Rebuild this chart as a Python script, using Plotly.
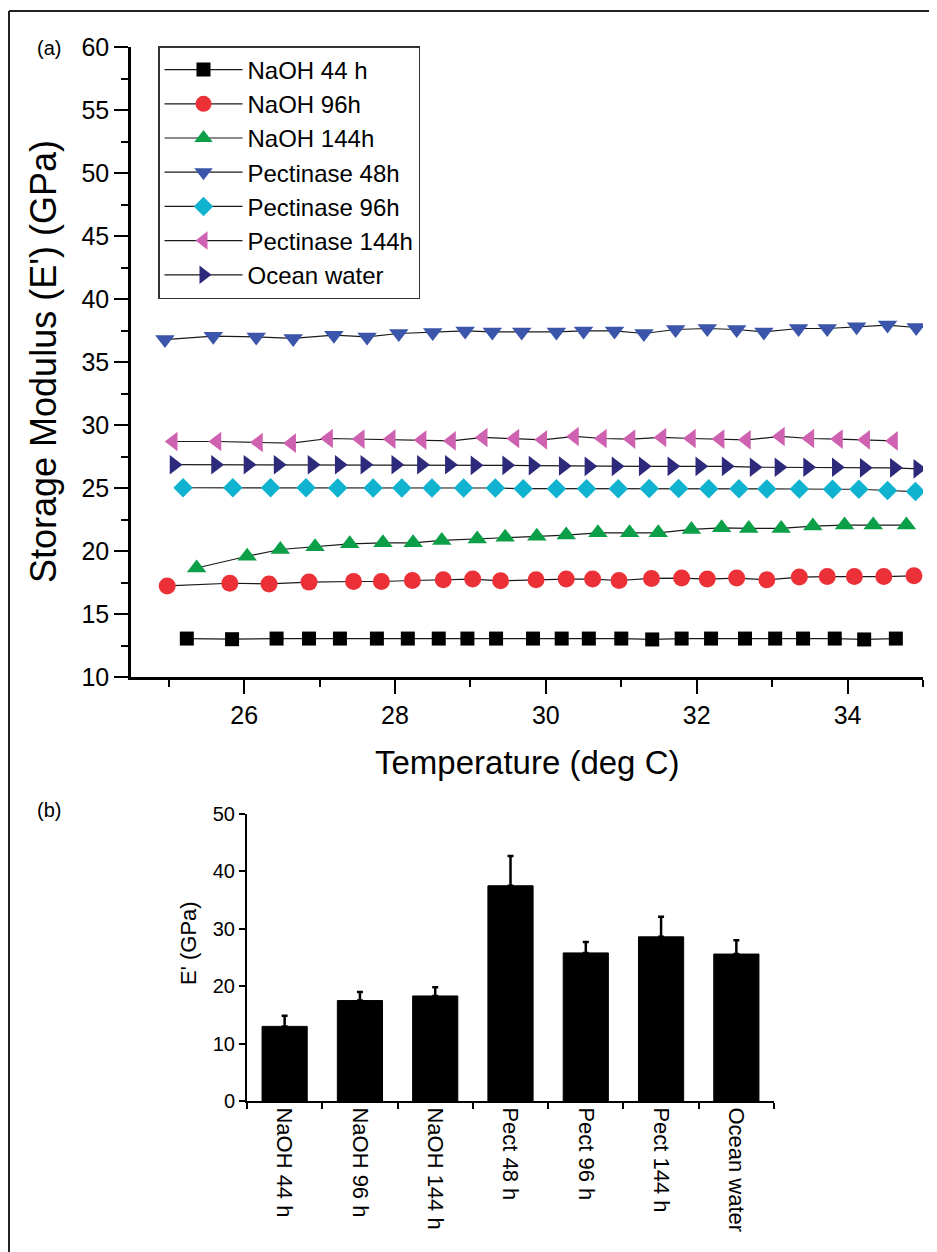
import plotly.graph_objects as go

# ---------------- (a) storage modulus vs temperature ----------------
t_naoh44 = [25.24, 25.84, 26.43, 26.86, 27.27, 27.76, 28.17, 28.58, 28.96, 29.34, 29.83, 30.21,
            30.57, 31.00, 31.41, 31.80, 32.19, 32.64, 33.04, 33.41, 33.83, 34.22, 34.64]
e_naoh44 = [13.05, 13.00, 13.05, 13.05, 13.05, 13.05, 13.05, 13.05, 13.05, 13.05, 13.05, 13.05,
            13.05, 13.05, 12.98, 13.05, 13.05, 13.05, 13.05, 13.05, 13.05, 12.98, 13.05]

t_naoh96 = [24.98, 25.81, 26.33, 26.86, 27.45, 27.82, 28.23, 28.64, 29.03, 29.40, 29.87, 30.27,
            30.62, 30.97, 31.40, 31.80, 32.14, 32.53, 32.93, 33.36, 33.73, 34.09, 34.48, 34.88]
e_naoh96 = [17.23, 17.44, 17.39, 17.53, 17.58, 17.58, 17.66, 17.71, 17.77, 17.63, 17.71, 17.77,
            17.77, 17.66, 17.82, 17.85, 17.77, 17.85, 17.71, 17.93, 17.97, 17.97, 17.97, 18.03]

t_naoh144 = [25.37, 26.04, 26.48, 26.94, 27.40, 27.84, 28.24, 28.62, 29.09, 29.46, 29.88, 30.27,
             30.69, 31.11, 31.49, 31.93, 32.33, 32.69, 33.12, 33.54, 33.96, 34.34, 34.78]
e_naoh144 = [18.65, 19.58, 20.12, 20.33, 20.57, 20.65, 20.65, 20.84, 20.96, 21.10, 21.18, 21.26,
             21.44, 21.44, 21.44, 21.71, 21.84, 21.79, 21.79, 21.98, 22.06, 22.06, 22.06]

t_pect48 = [24.95, 25.59, 26.16, 26.65, 27.19, 27.63, 28.05, 28.50, 28.93, 29.29, 29.68, 30.14,
            30.50, 30.91, 31.30, 31.72, 32.14, 32.53, 32.89, 33.35, 33.73, 34.12, 34.53, 34.91]
e_pect48 = [36.78, 37.05, 36.99, 36.87, 37.13, 36.99, 37.26, 37.34, 37.47, 37.39, 37.39, 37.39,
            37.47, 37.47, 37.26, 37.58, 37.66, 37.58, 37.39, 37.66, 37.66, 37.79, 37.93, 37.74]

t_pect96 = [25.19, 25.85, 26.35, 26.82, 27.24, 27.71, 28.09, 28.49, 28.91, 29.33, 29.70, 30.14,
            30.54, 30.96, 31.37, 31.76, 32.16, 32.56, 32.93, 33.36, 33.80, 34.15, 34.53, 34.90]
e_pect96 = [25.02, 25.02, 25.02, 25.02, 25.00, 25.00, 25.00, 25.00, 25.00, 25.00, 24.95, 24.95,
            24.95, 24.95, 24.97, 24.97, 24.95, 24.95, 24.92, 24.92, 24.90, 24.90, 24.80, 24.72]

t_pect144 = [25.06, 25.64, 26.19, 26.63, 27.12, 27.54, 27.95, 28.36, 28.75, 29.17, 29.59, 29.96,
             30.38, 30.75, 31.13, 31.54, 31.93, 32.31, 32.66, 33.11, 33.50, 33.88, 34.24, 34.61]
e_pect144 = [28.69, 28.69, 28.61, 28.56, 28.93, 28.88, 28.88, 28.80, 28.74, 29.01, 28.93, 28.82,
             29.09, 28.93, 28.88, 29.01, 28.93, 28.88, 28.82, 29.09, 28.93, 28.88, 28.82, 28.74]

t_ocean = [25.07, 25.62, 26.05, 26.45, 26.90, 27.26, 27.60, 28.01, 28.35, 28.72, 29.06, 29.48,
           29.83, 30.23, 30.57, 30.93, 31.29, 31.67, 32.04, 32.39, 32.76, 33.09, 33.47, 33.85,
           34.22, 34.62, 34.93]
e_ocean = [26.85, 26.85, 26.85, 26.85, 26.85, 26.85, 26.85, 26.85, 26.85, 26.85, 26.80, 26.80,
           26.78, 26.75, 26.72, 26.72, 26.72, 26.72, 26.72, 26.72, 26.65, 26.65, 26.65, 26.65,
           26.60, 26.60, 26.52]

series_names = ["NaOH 44 h", "NaOH 96h", "NaOH 144h", "Pectinase 48h",
                "Pectinase 96h", "Pectinase 144h", "Ocean water"]
series_t = [t_naoh44, t_naoh96, t_naoh144, t_pect48, t_pect96, t_pect144, t_ocean]
series_e = [e_naoh44, e_naoh96, e_naoh144, e_pect48, e_pect96, e_pect144, e_ocean]
series_symbols = ["square", "circle", "triangle-up", "triangle-down", "diamond",
                  "triangle-left", "triangle-right"]
series_colors = ["#000000", "#EC3038", "#0B9F48", "#3A55AA", "#10B3CF", "#CF62B0", "#2D2A7C"]
series_sizes = [14, 17, 17, 17, 15, 17, 17]

# ---------------- (b) bar chart ----------------
bar_cats = ["NaOH 44 h", "NaOH 96 h", "NaOH 144 h", "Pect 48 h", "Pect 96 h", "Pect 144 h", "Ocean water"]
bar_vals = [13.0, 17.5, 18.3, 37.5, 25.8, 28.6, 25.6]
bar_err = [1.85, 1.5, 1.5, 5.2, 1.9, 3.5, 2.4]

FONT = "Liberation Sans, Arial, Helvetica, sans-serif"

# the page body has an 8px margin, so the figure starts at (8, 8) in the window
OFF = 8
W, H = 937 - OFF, 1252 - OFF


def px_x(p):
    return (p - OFF) / W


def px_y(p):
    return 1 - (p - OFF) / H


fig = go.Figure()
for name, t, e, sym, col, sz in zip(series_names, series_t, series_e, series_symbols,
                                    series_colors, series_sizes):
    fig.add_trace(go.Scatter(
        x=t, y=e, name=name, mode="lines+markers",
        line=dict(color="#1a1a1a", width=1.2),
        marker=dict(symbol=sym, size=sz, color=col, line=dict(width=0)),
        xaxis="x", yaxis="y"))

fig.add_trace(go.Bar(
    x=bar_cats, y=bar_vals, showlegend=False,
    marker=dict(color="black", line=dict(color="black", width=1)),
    error_y=dict(type="data", array=bar_err, arrayminus=[0] * len(bar_err), symmetric=False,
                 color="black", thickness=2.5, width=3),
    xaxis="x2", yaxis="y2"))

axis_common = dict(showline=True, linecolor="black", showgrid=False, zeroline=False,
                   ticks="outside", tickcolor="black", automargin=False)

fig.update_layout(
    width=W, height=H,
    margin=dict(l=0, r=0, t=0, b=0),
    paper_bgcolor="white", plot_bgcolor="white",
    font=dict(family=FONT, color="black"),
    showlegend=True,
    bargap=0.4,
    xaxis=dict(**axis_common, domain=[px_x(131), px_x(923)], anchor="y",
               range=[24.5, 35], dtick=2, tick0=0, linewidth=2.5, ticklen=14, tickwidth=2,
               tickfont=dict(size=25),
               minor=dict(dtick=1, tick0=0, ticklen=7, tickwidth=2, ticks="outside",
                          tickcolor="black", showgrid=False)),
    yaxis=dict(**axis_common, domain=[px_y(677), px_y(47)], anchor="x",
               range=[10, 60], dtick=5, tick0=0, linewidth=2.5, ticklen=14, tickwidth=2,
               tickfont=dict(size=25),
               minor=dict(dtick=2.5, tick0=0, ticklen=7, tickwidth=2, ticks="outside",
                          tickcolor="black", showgrid=False)),
    xaxis2=dict(**axis_common, domain=[px_x(247), px_x(774)], anchor="y2",
                type="category", range=[-0.5, 6.5], tickson="boundaries",
                linewidth=2, ticklen=6, tickwidth=2, tickangle=90,
                tickfont=dict(size=22)),
    yaxis2=dict(**axis_common, domain=[px_y(1101), px_y(814)], anchor="x2",
                range=[0, 50], dtick=10, linewidth=2, ticklen=6, tickwidth=2,
                tickfont=dict(size=20)),
    legend=dict(x=px_x(158), y=px_y(46), xanchor="left", yanchor="top",
                bgcolor="white", bordercolor="#333333", borderwidth=1.5,
                font=dict(size=24, family=FONT), itemwidth=78, tracegroupgap=0),
    annotations=[
        dict(text="(a)", x=px_x(49), y=px_y(48), xref="paper", yref="paper",
             showarrow=False, font=dict(size=20), xanchor="center", yanchor="middle"),
        dict(text="(b)", x=px_x(49), y=px_y(810), xref="paper", yref="paper",
             showarrow=False, font=dict(size=20), xanchor="center", yanchor="middle"),
        dict(text="Storage Modulus (E') (GPa)", x=px_x(44), y=px_y(362), xref="paper",
             yref="paper", showarrow=False, font=dict(size=36), textangle=-90,
             xanchor="center", yanchor="middle"),
        dict(text="Temperature (deg C)", x=px_x(527), y=px_y(762), xref="paper",
             yref="paper", showarrow=False, font=dict(size=33),
             xanchor="center", yanchor="middle"),
        dict(text="E' (GPa)", x=px_x(188), y=px_y(943), xref="paper", yref="paper",
             showarrow=False, font=dict(size=22), textangle=-90,
             xanchor="center", yanchor="middle"),
    ],
    shapes=[
        dict(type="line", xref="paper", yref="paper", x0=px_x(9), x1=1.01, y0=px_y(11), y1=px_y(11),
             line=dict(color="#222222", width=2)),
        dict(type="line", xref="paper", yref="paper", x0=px_x(9), x1=px_x(9), y0=px_y(11), y1=-0.01,
             line=dict(color="#222222", width=2)),
    ],
)

fig.write_html("out.html")
